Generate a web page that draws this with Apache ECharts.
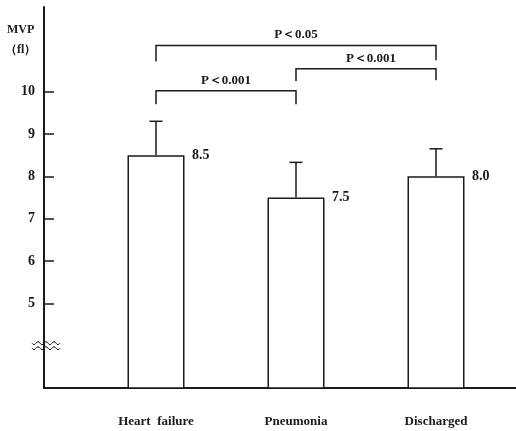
<!DOCTYPE html>
<html>
<head>
<meta charset="utf-8">
<script src="https://cdn.jsdelivr.net/npm/echarts@6/dist/echarts.min.js"></script>
<style>
  html, body { margin: 0; padding: 0; background: #fff; }
  #chart { width: 516px; height: 431px; }
</style>
</head>
<body>
<div id="chart"></div>
<script>
// Mean platelet volume by patient group
const categories = ['Heart  failure', 'Pneumonia', 'Discharged'];
const meanValues = [8.5, 7.5, 8.0];
const upperError = [9.3, 8.33, 8.65];
const yTicks = [5, 6, 7, 8, 9, 10];

// Pairwise comparisons (category indices) and bracket levels on the value scale
const pairStart = [0, 1, 0];
const pairEnd = [1, 2, 2];
const pairLabels = ['P＜0.001', 'P＜0.001', 'P＜0.05'];
const pairTop = [10.02, 10.54, 11.09];
const pairLegLeft = [9.70, 10.25, 10.71];
const pairLegRight = [9.70, 10.27, 10.74];

// Scale break drawn on the value axis
const breakValue = 4;

const FONT = '"Liberation Serif", "DejaVu Serif", serif';
const INK = '#1a1a1a';
const X_MIN = 0.2, X_MAX = 3.5714;

const pos = i => i + 1;

const chart = echarts.init(document.getElementById('chart'));

chart.setOption({
  backgroundColor: '#fff',
  animation: false,
  grid: { left: 44, right: 0, top: 7, bottom: 43 },
  xAxis: {
    type: 'value',
    min: X_MIN,
    max: X_MAX,
    splitLine: { show: false },
    axisTick: { show: false },
    axisLine: { show: true, lineStyle: { color: INK, width: 2 } },
    axisLabel: {
      customValues: categories.map((c, i) => pos(i)),
      formatter: v => categories[Math.round(v) - 1] || '',
      margin: 27,
      color: INK,
      fontFamily: FONT,
      fontWeight: 'bold',
      fontSize: 13
    }
  },
  yAxis: {
    type: 'value',
    min: 3,
    max: 12,
    interval: 1,
    splitLine: { show: false },
    axisLine: { show: true, lineStyle: { color: INK, width: 2 } },
    axisTick: {
      show: true, inside: true, length: 10,
      customValues: yTicks,
      lineStyle: { color: INK, width: 1.5 }
    },
    axisLabel: {
      customValues: yTicks,
      margin: 9,
      color: INK,
      fontFamily: FONT,
      fontWeight: 'bold',
      fontSize: 14
    }
  },
  graphic: [
    {
      type: 'text', left: 7, top: 24,
      style: { text: 'MVP', font: 'bold 12px ' + FONT, fill: INK }
    },
    {
      type: 'text', left: 5, top: 44,
      style: { text: '（fl）', font: 'bold 12px ' + FONT, fill: INK }
    }
  ],
  series: [
    {
      type: 'bar',
      data: meanValues.map((v, i) => [pos(i), v]),
      barWidth: 57,
      itemStyle: { color: '#fff', borderColor: INK, borderWidth: 1.5 },
      label: {
        show: true,
        position: 'top',
        distance: 0,
        align: 'left',
        verticalAlign: 'middle',
        offset: [36, 0],
        formatter: p => p.value[1].toFixed(1),
        color: INK,
        fontFamily: FONT,
        fontWeight: 'bold',
        fontSize: 14
      },
      z: 2
    },
    {
      // Upper error bars
      type: 'custom',
      clip: false,
      data: upperError.map((e, i) => [pos(i), meanValues[i], e]),
      renderItem: (params, api) => {
        const base = api.coord([api.value(0), api.value(1)]);
        const top = api.coord([api.value(0), api.value(2)]);
        const cap = 6.5;
        return {
          type: 'group',
          children: [
            { type: 'line', shape: { x1: base[0], y1: base[1], x2: top[0], y2: top[1] },
              style: { stroke: INK, lineWidth: 1.5 } },
            { type: 'line', shape: { x1: top[0] - cap, y1: top[1], x2: top[0] + cap, y2: top[1] },
              style: { stroke: INK, lineWidth: 1.5 } }
          ]
        };
      },
      z: 3
    },
    {
      // Significance brackets
      type: 'custom',
      clip: false,
      data: pairLabels.map((t, i) => [pos(pairStart[i]), pos(pairEnd[i]), pairTop[i], pairLegLeft[i], pairLegRight[i]]),
      renderItem: (params, api) => {
        const i = params.dataIndex;
        const a = api.coord([api.value(0), api.value(3)]);
        const b = api.coord([api.value(0), api.value(2)]);
        const c = api.coord([api.value(1), api.value(2)]);
        const d = api.coord([api.value(1), api.value(4)]);
        return {
          type: 'group',
          children: [
            { type: 'polyline', shape: { points: [a, b, c, d] },
              style: { stroke: INK, lineWidth: 1.5, fill: null } },
            { type: 'text',
              style: {
                text: pairLabels[i],
                x: (b[0] + c[0]) / 2 + (i === 1 ? 5 : 0),
                y: b[1] - 4,
                align: 'center', verticalAlign: 'bottom',
                textAlign: 'center', textVerticalAlign: 'bottom',
                font: 'bold 13px ' + FONT,
                fill: INK
              } }
          ]
        };
      },
      z: 3
    },
    {
      // Break marks on the value axis
      type: 'custom',
      clip: false,
      data: [[X_MIN, breakValue]],
      renderItem: (params, api) => {
        const p = api.coord([api.value(0), api.value(1)]);
        const wave = dy => {
          const pts = [];
          for (let k = 0; k <= 28; k++) {
            const x = p[0] - 12 + k;
            pts.push([x, p[1] + dy + 1.5 * Math.sin(k / 28 * Math.PI * 7)]);
          }
          return { type: 'polyline', shape: { points: pts },
                   style: { stroke: INK, lineWidth: 1, fill: null } };
        };
        return { type: 'group', children: [wave(-2.5), wave(2.5)] };
      },
      z: 4
    }
  ]
});
</script>
</body>
</html>
